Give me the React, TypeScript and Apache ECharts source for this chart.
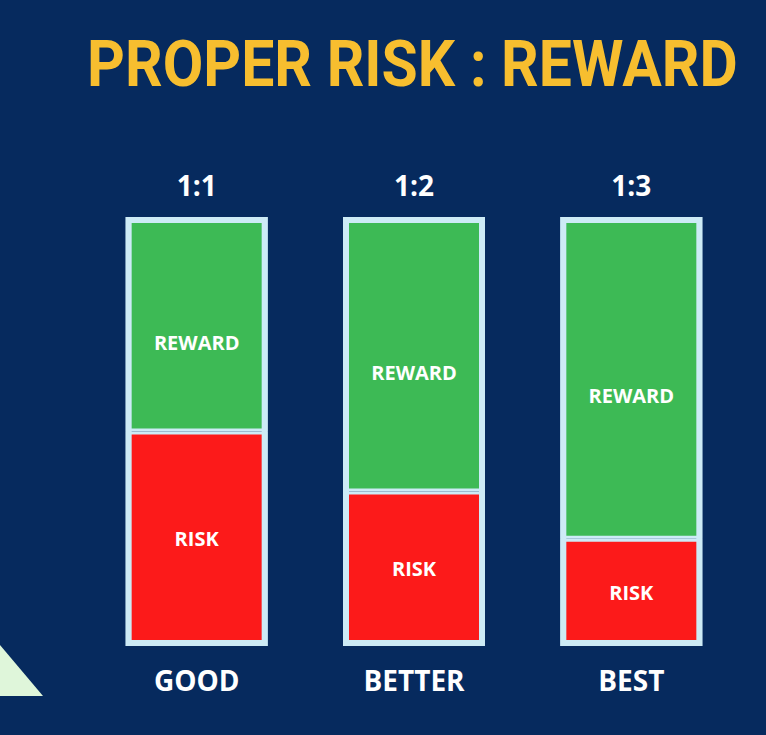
import React, { useEffect, useRef } from "react";
import * as echarts from "echarts";

const ratios = ["1:1", "1:2", "1:3"];
const grades = ["GOOD", "BETTER", "BEST"];
// share of each bar's height (percent)
const riskValues = [50, 36, 25];
const rewardValues = [50, 64, 75];

const App: React.FC = () => {
  const chartRef = useRef<HTMLDivElement>(null);

  useEffect(() => {
    if (!chartRef.current) return;

    const chart = echarts.init(chartRef.current, undefined, { renderer: "svg" });

    const frameColor = "#cdebf6";
    const totals = riskValues.map((v, i) => v + rewardValues[i]);

    const segmentStyle = (color: string) => ({
      color,
      borderColor: frameColor,
      borderWidth: 3,
    });

    const segmentLabel = (text: string) => ({
      show: true,
      position: "inside" as const,
      formatter: text,
      color: "#ffffff",
      fontSize: 20,
      fontWeight: "bold" as const,
      fontFamily: "Open Sans",
      textBorderWidth: 0,
    });

    const axisText = {
      color: "#ffffff",
      fontSize: 28,
      fontWeight: "bold" as const,
      fontFamily: "Open Sans",
    };

    const option: echarts.EChartsOption = {
      animation: false,
      backgroundColor: "#062a5e",
      grid: { left: 88, right: 26, top: 217, bottom: 89 },
      xAxis: [
        {
          type: "category",
          data: ratios,
          position: "top",
          axisLine: { show: false },
          axisTick: { show: false },
          axisLabel: { ...axisText, margin: 18 },
        },
        {
          type: "category",
          data: grades,
          position: "bottom",
          axisLine: { show: false },
          axisTick: { show: false },
          axisLabel: { ...axisText, margin: 20 },
        },
      ],
      yAxis: {
        type: "value",
        min: 0,
        max: 100,
        show: false,
        splitLine: { show: false },
      },
      series: [
        {
          name: "Risk",
          type: "bar",
          stack: "total",
          data: riskValues,
          barWidth: 142,
          barGap: "-100%",
          itemStyle: segmentStyle("#fc1a1a"),
          label: segmentLabel("RISK"),
        },
        {
          name: "Reward",
          type: "bar",
          stack: "total",
          data: rewardValues,
          barWidth: 142,
          barGap: "-100%",
          itemStyle: segmentStyle("#3dba55"),
          label: { ...segmentLabel("REWARD"), offset: [0, 18] },
        },
        {
          name: "Frame",
          type: "bar",
          data: totals,
          barWidth: 142,
          barGap: "-100%",
          silent: true,
          itemStyle: {
            color: "transparent",
            borderColor: frameColor,
            borderWidth: 6,
          },
        },
      ],
      graphic: [
        {
          type: "text",
          x: 87,
          y: 64,
          scaleX: 0.92,
          style: {
            text: "PROPER RISK : REWARD",
            fill: "#f7be2f",
            font: "bold 64px Roboto",
            align: "left",
            verticalAlign: "middle",
          },
        },
        {
          type: "polygon",
          shape: { points: [[0, 645], [43, 696], [0, 696]] },
          style: { fill: "#dff6da" },
        },
      ],
    };

    chart.setOption(option);

    return () => {
      chart.dispose();
    };
  }, []);

  return (
    <div
      ref={chartRef}
      style={{ position: "fixed", left: 0, top: 0, width: 766, height: 735 }}
    />
  );
};

export default App;
